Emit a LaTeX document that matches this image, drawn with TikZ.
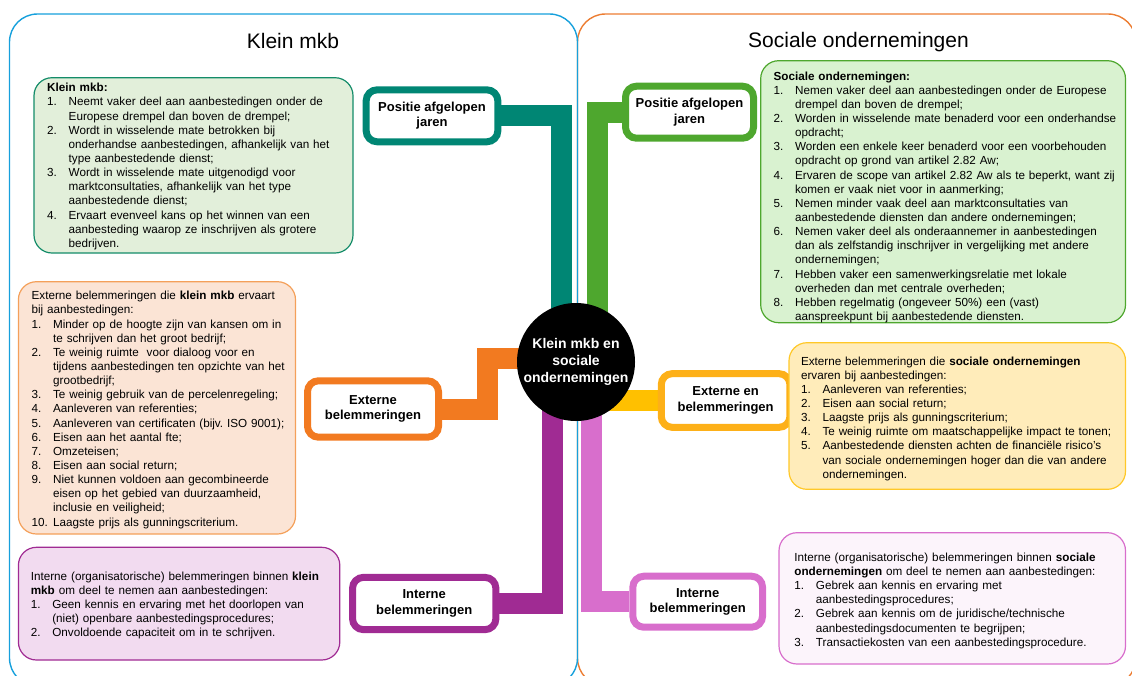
\documentclass[tikz,border=0pt]{standalone}
\usepackage{fontspec}
\setmainfont{Liberation Sans}
\usetikzlibrary{backgrounds}
\frenchspacing

\definecolor{frameblue}{RGB}{22,160,220}
\definecolor{frameorange}{RGB}{236,125,50}
\definecolor{tealc}{RGB}{0,134,116}
\definecolor{greenc}{RGB}{78,167,46}
\definecolor{orangec}{RGB}{242,122,32}
\definecolor{yellowc}{RGB}{255,192,0}
\definecolor{amberc}{RGB}{253,176,24}
\definecolor{purplec}{RGB}{160,43,147}
\definecolor{pinkc}{RGB}{216,110,204}
\definecolor{gLfill}{RGB}{226,239,218}
\definecolor{gLline}{RGB}{20,140,105}
\definecolor{gRfill}{RGB}{217,242,208}
\definecolor{oFill}{RGB}{251,228,213}
\definecolor{oLine}{RGB}{244,160,90}
\definecolor{yFill}{RGB}{255,236,186}
\definecolor{yLine}{RGB}{255,200,40}
\definecolor{pLfill}{RGB}{242,219,240}
\definecolor{pRfill}{RGB}{252,244,251}

% numbered list item with hanging indent
\newcommand{\li}[2]{\par\hangindent=21.5pt\hangafter=1\noindent\makebox[21.5pt][l]{#1}#2\par}

\tikzset{
  lbl/.style={draw=#1, line width=7pt, rounded corners=11pt, fill=white,
    inner sep=0pt, align=center, font=\fontsize{13}{15.5}\selectfont\bfseries},
  bar/.style={draw=#1, line width=21pt},
  txtbox/.style={rounded corners=18pt, line width=1.2pt},
  body/.style={anchor=base west, inner sep=0pt, text width=400pt,
    font=\fontsize{11.7}{14.15}\selectfont},
  heading/.style={anchor=base, inner sep=0pt, font=\fontsize{21}{25}\selectfont},
  hubstyle/.style={circle, fill=black, minimum size=118pt, inner sep=0pt,
    text=white, align=center, font=\fontsize{14}{17.2}\selectfont\bfseries},
}

\begin{document}
\begin{tikzpicture}[x=1pt,y=-1pt]
\useasboundingbox (0,0) rectangle (1132,675);
\clip (0,0) rectangle (1132,675);

% two section frames
\draw[frameorange, line width=1.4pt, rounded corners=28pt] (577.5,14) rectangle (1136,686);
\draw[frameblue, line width=1.4pt, rounded corners=28pt] (9.5,14) rectangle (577.5,686);

% section headings
\node[heading] (titleL) at (293,48) {Klein mkb};
\node[heading] (titleR) at (858.5,47.5) {Sociale ondernemingen};

% central hub
\node[hubstyle] (hub) at (576,362) {Klein mkb en\\sociale\\ondernemingen};

% branch labels
\node[lbl=tealc, minimum width=131.7pt, minimum height=52pt] (posL) at (432,115.8) {Positie afgelopen\\jaren};
\node[lbl=greenc, minimum width=128pt, minimum height=52pt] (posR) at (689.5,112.2) {Positie afgelopen\\jaren};
\node[lbl=orangec, minimum width=131pt, minimum height=56.4pt] (extL) at (373,409) {Externe\\belemmeringen};
\node[lbl=amberc, minimum width=128.7pt, minimum height=53.7pt] (extR) at (725.6,400.5) {Externe en\\belemmeringen};
\node[lbl=purplec, minimum width=143.4pt, minimum height=52.3pt] (intL) at (424.2,603.5) {Interne\\belemmeringen};
\node[lbl=pinkc, minimum width=129.7pt, minimum height=51pt] (intR) at (697.7,601.7) {Interne\\belemmeringen};

% elbow points of the connectors
\coordinate (tealX) at (561.5,0);
\coordinate (greenX) at (597,0);
\coordinate (orangeTop) at (487.5,358);
\coordinate (purpleX) at (552,0);
\coordinate (pinkX) at (591.5,0);

\begin{scope}[on background layer]
  \draw[bar=tealc] (posL.east) -- (tealX |- posL.east) -- (tealX |- hub.center);
  \draw[bar=greenc] (posR.west) -- (greenX |- posR.west) -- (greenX |- hub.center);
  \draw[bar=orangec] (extL.east) -- (orangeTop |- extL.east) -- (orangeTop) -- (hub.center |- orangeTop);
  \draw[bar=yellowc] (hub.center |- extR.west) -- (extR.west);
  \draw[bar=purplec] (intL.east) -- (purpleX |- intL.east) -- (purpleX |- hub.center);
  \draw[bar=pinkc] (intR.west) -- (pinkX |- intR.west) -- (pinkX |- hub.center);
\end{scope}

% text panels
\draw[txtbox, draw=gLline, fill=gLfill] (34,77.7) rectangle (353,253);
\draw[txtbox, draw=greenc, fill=gRfill] (760.7,60.7) rectangle (1125.5,322.7);
\draw[txtbox, draw=oLine, fill=oFill] (18.4,281.7) rectangle (295.5,534);
\draw[txtbox, draw=yLine, fill=yFill] (789,342.7) rectangle (1125.5,489.3);
\draw[txtbox, draw=purplec, fill=pLfill] (18.4,547.3) rectangle (339.8,660);
\draw[txtbox, draw=pinkc, fill=pRfill] (779,532.7) rectangle (1125.5,664);

\node[body] (tGL) at (47,91.7) {\noindent\textbf{Klein mkb:}
\li{1.}{Neemt vaker deel aan aanbestedingen onder de\newline Europese drempel dan boven de drempel;}
\li{2.}{Wordt in wisselende mate betrokken bij\newline onderhandse aanbestedingen, afhankelijk van het\newline type aanbestedende dienst;}
\li{3.}{Wordt in wisselende mate uitgenodigd voor\newline marktconsultaties, afhankelijk van het type\newline aanbestedende dienst;}
\li{4.}{Ervaart evenveel kans op het winnen van een\newline aanbesteding waarop ze inschrijven als grotere\newline bedrijven.}};

\node[body] (tGR) at (773.4,80) {\noindent\textbf{Sociale ondernemingen:}
\li{1.}{Nemen vaker deel aan aanbestedingen onder de Europese\newline drempel dan boven de drempel;}
\li{2.}{Worden in wisselende mate benaderd voor een onderhandse\newline opdracht;}
\li{3.}{Worden een enkele keer benaderd voor een voorbehouden\newline opdracht op grond van artikel 2.82 Aw;}
\li{4.}{Ervaren de scope van artikel 2.82 Aw als te beperkt, want zij\newline komen er vaak niet voor in aanmerking;}
\li{5.}{Nemen minder vaak deel aan marktconsultaties van\newline aanbestedende diensten dan andere ondernemingen;}
\li{6.}{Nemen vaker deel als onderaannemer in aanbestedingen\newline dan als zelfstandig inschrijver in vergelijking met andere\newline ondernemingen;}
\li{7.}{Hebben vaker een samenwerkingsrelatie met lokale\newline overheden dan met centrale overheden;}
\li{8.}{Hebben regelmatig (ongeveer 50\%) een (vast)\newline aanspreekpunt bij aanbestedende diensten.}};

\node[body] (tOL) at (31.4,299.7) {\noindent Externe belemmeringen die \textbf{klein mkb} ervaart\newline bij aanbestedingen:
\li{1.}{Minder op de hoogte zijn van kansen om in\newline te schrijven dan het groot bedrijf;}
\li{2.}{Te weinig ruimte\ \ voor dialoog voor en\newline tijdens aanbestedingen ten opzichte van het\newline grootbedrijf;}
\li{3.}{Te weinig gebruik van de percelenregeling;}
\li{4.}{Aanleveren van referenties;}
\li{5.}{Aanleveren van certificaten (bijv. ISO 9001);}
\li{6.}{Eisen aan het aantal fte;}
\li{7.}{Omzeteisen;}
\li{8.}{Eisen aan social return;}
\li{9.}{Niet kunnen voldoen aan gecombineerde\newline eisen op het gebied van duurzaamheid,\newline inclusie en veiligheid;}
\li{10.}{Laagste prijs als gunningscriterium.}};

\node[body] (tYR) at (800.8,365) {\noindent Externe belemmeringen die \textbf{sociale ondernemingen}\newline ervaren bij aanbestedingen:
\li{1.}{Aanleveren van referenties;}
\li{2.}{Eisen aan social return;}
\li{3.}{Laagste prijs als gunningscriterium;}
\li{4.}{Te weinig ruimte om maatschappelijke impact te tonen;}
\li{5.}{Aanbestedende diensten achten de financiële risico’s\newline van sociale ondernemingen hoger dan die van andere\newline ondernemingen.}};

\node[body] (tPL) at (30.6,580) {\noindent Interne (organisatorische) belemmeringen binnen \textbf{klein}\newline \textbf{mkb} om deel te nemen aan aanbestedingen:
\li{1.}{Geen kennis en ervaring met het doorlopen van\newline (niet) openbare aanbestedingsprocedures;}
\li{2.}{Onvoldoende capaciteit om in te schrijven.}};

\node[body] (tPR) at (794.2,561.3) {\noindent Interne (organisatorische) belemmeringen binnen \textbf{sociale}\newline \textbf{ondernemingen} om deel te nemen aan aanbestedingen:
\li{1.}{Gebrek aan kennis en ervaring met\newline aanbestedingsprocedures;}
\li{2.}{Gebrek aan kennis om de juridische/technische\newline aanbestedingsdocumenten te begrijpen;}
\li{3.}{Transactiekosten van een aanbestedingsprocedure.}};

\end{tikzpicture}
\end{document}
